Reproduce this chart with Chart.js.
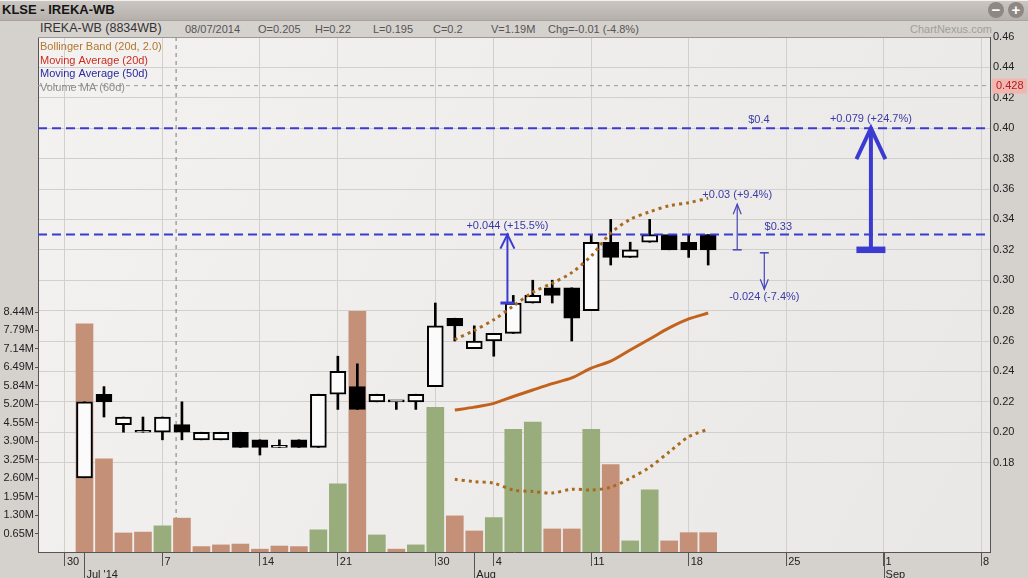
<!DOCTYPE html>
<html>
<head>
<meta charset="utf-8">
<title>KLSE - IREKA-WB</title>
<script src="https://cdn.jsdelivr.net/npm/chart.js@4.4.1/dist/chart.umd.min.js"></script>
<style>
  html, body { margin: 0; padding: 0; background: #d5d1cd; }
  #wrap { position: relative; width: 1028px; height: 578px; overflow: hidden; background: #d5d1cd; font-family: "Liberation Sans", Arial, sans-serif; }
  #topbar { position: absolute; left: 0; top: 0; width: 1028px; height: 21px; background: linear-gradient(#cbc6c1, #b5b0ab); border-top: 1px solid #f2f0ee; border-bottom: 1px solid #a8a39e; box-sizing: border-box; }
  #title { position: absolute; left: 2px; top: 2px; font-size: 13px; font-weight: bold; color: #151515; }
  .btn { position: absolute; top: 2px; width: 16px; height: 16px; border-radius: 50%; background: #8d8883; color: #fff; font: bold 15px/16px "Liberation Sans", Arial, sans-serif; text-align: center; }
  #name { position: absolute; left: 40px; top: 21px; font-size: 12.5px; color: #333; }
  .info { position: absolute; top: 23px; font-size: 11px; color: #555; white-space: nowrap; }
  #brand { position: absolute; left: 910px; top: 23px; font-size: 11px; color: #a29e9a; }
  canvas { position: absolute; left: 0; top: 0; }
</style>
</head>
<body>
<div id="wrap">
  <div id="topbar"></div>
  <div id="title">KLSE - IREKA-WB</div>
  <div class="btn" style="left:988px">&minus;</div>
  <div class="btn" style="left:1008px">+</div>
  <div id="name">IREKA-WB (8834WB)</div>
  <div class="info" style="left:185px">08/07/2014</div>
  <div class="info" style="left:258px">O=0.205</div>
  <div class="info" style="left:315px">H=0.22</div>
  <div class="info" style="left:373px">L=0.195</div>
  <div class="info" style="left:433px">C=0.2</div>
  <div class="info" style="left:491px">V=1.19M</div>
  <div class="info" style="left:548px">Chg=-0.01 (-4.8%)</div>
  <div id="brand">ChartNexus.com</div>
  <canvas id="chart" width="1028" height="578"></canvas>
</div>
<script>
// trading days on the axis (Jun 30 .. Sep 8)
const days = ['Jun 30', 'Jul 1', 'Jul 2', 'Jul 3', 'Jul 4', 'Jul 7', 'Jul 8', 'Jul 9', 'Jul 10', 'Jul 11',
  'Jul 14', 'Jul 15', 'Jul 16', 'Jul 17', 'Jul 21', 'Jul 22', 'Jul 23', 'Jul 24', 'Jul 25', 'Jul 30', 'Jul 31',
  'Aug 1', 'Aug 4', 'Aug 5', 'Aug 6', 'Aug 7', 'Aug 8', 'Aug 11', 'Aug 12', 'Aug 13', 'Aug 14', 'Aug 15',
  'Aug 18', 'Aug 19', 'Aug 20', 'Aug 21', 'Aug 22', 'Aug 25', 'Aug 26', 'Aug 27', 'Aug 28', 'Aug 29',
  'Sep 1', 'Sep 2', 'Sep 3', 'Sep 4', 'Sep 5', 'Sep 8'];

// days with a candle
const candleDays = ['Jul 1', 'Jul 2', 'Jul 3', 'Jul 4', 'Jul 7', 'Jul 8', 'Jul 9', 'Jul 10', 'Jul 11',
  'Jul 14', 'Jul 15', 'Jul 16', 'Jul 17', 'Jul 21', 'Jul 22', 'Jul 23', 'Jul 24', 'Jul 25', 'Jul 30', 'Jul 31',
  'Aug 1', 'Aug 4', 'Aug 5', 'Aug 6', 'Aug 7', 'Aug 8', 'Aug 11', 'Aug 12', 'Aug 13', 'Aug 14', 'Aug 15',
  'Aug 18', 'Aug 19'];

const opens  = [0.17, 0.225, 0.205, 0.2, 0.2, 0.205, 0.195, 0.195, 0.2, 0.195, 0.19, 0.195, 0.19, 0.225, 0.23, 0.22, 0.22,
  0.22, 0.23, 0.275, 0.255, 0.26, 0.265, 0.285, 0.295, 0.295, 0.28, 0.325, 0.315, 0.325, 0.33, 0.325, 0.33];
const highs  = [0.22, 0.23, 0.21, 0.21, 0.21, 0.22, 0.2, 0.2, 0.2, 0.195, 0.195, 0.195, 0.225, 0.25, 0.245, 0.225, 0.22,
  0.225, 0.285, 0.275, 0.27, 0.265, 0.29, 0.3, 0.3, 0.295, 0.33, 0.34, 0.325, 0.34, 0.33, 0.33, 0.33];
const lows   = [0.17, 0.21, 0.2, 0.2, 0.195, 0.195, 0.195, 0.195, 0.19, 0.185, 0.19, 0.19, 0.19, 0.215, 0.215, 0.22, 0.215,
  0.215, 0.23, 0.26, 0.255, 0.25, 0.265, 0.285, 0.285, 0.26, 0.28, 0.31, 0.315, 0.325, 0.32, 0.315, 0.31];
const closes = [0.22, 0.22, 0.21, 0.2, 0.21, 0.2, 0.2, 0.2, 0.19, 0.19, 0.19, 0.19, 0.225, 0.24, 0.215, 0.225, 0.22,
  0.225, 0.27, 0.27, 0.26, 0.265, 0.285, 0.29, 0.29, 0.275, 0.325, 0.315, 0.32, 0.33, 0.32, 0.32, 0.32];
// volume in millions
const volumes = [8.02, 3.28, 0.67, 0.70, 0.92, 1.19, 0.19, 0.25, 0.28, 0.10, 0.21, 0.19, 0.78, 2.40, 8.46, 0.60, 0.10,
  0.25, 5.09, 1.27, 0.74, 1.21, 4.31, 4.57, 0.81, 0.81, 4.31, 3.07, 0.39, 2.19, 0.39, 0.68, 0.68];

// bollinger band (20d, 2.0) from Jul 31
const bandDays = ['Jul 31', 'Aug 1', 'Aug 4', 'Aug 5', 'Aug 6', 'Aug 7', 'Aug 8', 'Aug 11', 'Aug 12', 'Aug 13',
  'Aug 14', 'Aug 15', 'Aug 18', 'Aug 19'];
const bbUpper = [0.261, 0.267, 0.274, 0.283, 0.292, 0.298, 0.305, 0.316, 0.331, 0.340, 0.345, 0.349, 0.351, 0.354];
const bbMiddle = [0.2146, 0.2165, 0.219, 0.2235, 0.2278, 0.232, 0.2357, 0.2422, 0.2468, 0.2541, 0.2613, 0.2686, 0.2745, 0.2784];
const bbLower = [0.169, 0.1675, 0.1665, 0.162, 0.161, 0.160, 0.1625, 0.162, 0.1638, 0.1697, 0.177, 0.187, 0.197, 0.202];

// axis ticks
const tickDays = ['Jun 30', 'Jul 1', 'Jul 7', 'Jul 14', 'Jul 21', 'Jul 30', 'Aug 1', 'Aug 4', 'Aug 11', 'Aug 18', 'Aug 25', 'Sep 1', 'Sep 8'];
const tickLabels = [['30'], ['', "Jul '14"], ['7'], ['14'], ['21'], ['30'], ['', 'Aug'], ['4'], ['11'], ['18'], ['25'], ['1', 'Sep'], ['8']];
const monthDays = ['Jul 1', 'Aug 1'];
const monthStartDays = ['Jul 1', 'Aug 1', 'Sep 1'];
const priceTicks = [0.18, 0.20, 0.22, 0.24, 0.26, 0.28, 0.30, 0.32, 0.34, 0.36, 0.38, 0.40, 0.42, 0.44, 0.46];
const volTickLabels = ['0.65M', '1.30M', '1.95M', '2.60M', '3.25M', '3.90M', '4.55M', '5.20M', '5.84M', '6.49M', '7.14M', '7.79M', '8.44M'];
const volTickStep = 0.6492;

// drawn price levels and measure arrows
const levelPrices = [0.40, 0.33];
const levelText = ['$0.4', '$0.33'];
const lastPrice = 0.428;
const arrowAt = [22.7, 34.49, 35.88, 41.35];          // position on the day axis
const arrowFrom = [0.285, 0.32, 0.32, 0.32];
const arrowTo = [0.33, 0.35, 0.296, 0.40];
const arrowText = ['+0.044 (+15.5%)', '+0.03 (+9.4%)', '-0.024 (-7.4%)', '+0.079 (+24.7%)'];
const crossDay = 'Jul 8';

const legendText = ['Bollinger Band (20d, 2.0)', 'Moving Average (20d)', 'Moving Average (50d)', 'Volume MA (60d)'];
const legendColor = ['#b5752a', '#cc2b1f', '#2a2a9e', '#8c8c8c'];

const dayIdx = d => days.indexOf(d);

Chart.defaults.font.family = '"Liberation Sans", Arial, sans-serif';
Chart.defaults.font.size = 11;
Chart.defaults.color = '#222';

const wicks = candleDays.map((d, i) => ({ x: dayIdx(d), y: [lows[i], highs[i]] }));
const bodies = candleDays.map((d, i) => ({ x: dayIdx(d), y: [opens[i], closes[i]] }));
const vols = candleDays.map((d, i) => ({ x: dayIdx(d), y: volumes[i] }));
const volColors = closes.map((c, i) => (i > 0 && c > closes[i - 1]) ? '#98ad7b' : '#c59078');
const bodyColors = closes.map((c, i) => c >= opens[i] ? '#fbfbfb' : '#000');
const line = arr => bandDays.map((d, i) => ({ x: dayIdx(d), y: arr[i] }));

function drawArrow(ctx, x, y0, y1, s, color) {
  ctx.strokeStyle = color;
  ctx.fillStyle = color;
  ctx.lineWidth = s.w;
  ctx.beginPath(); ctx.moveTo(x, y0); ctx.lineTo(x, y1); ctx.stroke();
  const dir = y1 < y0 ? 1 : -1;
  ctx.beginPath();
  ctx.moveTo(x - s.head, y1 + dir * s.headH);
  ctx.lineTo(x, y1);
  ctx.lineTo(x + s.head, y1 + dir * s.headH);
  ctx.stroke();
  ctx.fillRect(x - s.bar, y0 - s.barT / 2, s.bar * 2, s.barT);
}

const overlay = {
  id: 'overlay',
  beforeDraw(chart) {
    const { ctx, chartArea: a } = chart;
    ctx.save();
    const g = ctx.createLinearGradient(a.left, a.top, a.right, a.bottom);
    g.addColorStop(0, '#f3f2f1');
    g.addColorStop(1, '#e9e8e6');
    ctx.fillStyle = g;
    ctx.fillRect(a.left, a.top, a.right - a.left, a.bottom - a.top);
    ctx.restore();
  },
  beforeDatasetsDraw(chart) {
    const { ctx, chartArea: a, scales } = chart;
    ctx.save();
    // selected day crosshair
    const cx = scales.x.getPixelForValue(dayIdx(crossDay) - 0.3);
    ctx.strokeStyle = '#7a7a7a';
    ctx.lineWidth = 1;
    ctx.setLineDash([4, 4]);
    ctx.beginPath(); ctx.moveTo(cx, a.top); ctx.lineTo(cx, a.bottom); ctx.stroke();
    // last price line
    const ly = scales.y.getPixelForValue(lastPrice);
    ctx.strokeStyle = '#9a9a9a';
    ctx.beginPath(); ctx.moveTo(a.left, ly); ctx.lineTo(a.right, ly); ctx.stroke();
    ctx.setLineDash([]);
    // indicator legend
    ctx.font = '11px "Liberation Sans", Arial, sans-serif';
    ctx.textBaseline = 'middle';
    ctx.textAlign = 'left';
    legendText.forEach((t, i) => {
      ctx.fillStyle = legendColor[i];
      ctx.fillText(t, a.left + 2, a.top + 10 + i * 13.6);
    });
    ctx.restore();
  },
  afterDatasetsDraw(chart) {
    const { ctx, chartArea: a, scales } = chart;
    const blue = '#3b3bd2';
    ctx.save();
    ctx.strokeStyle = blue;
    ctx.lineWidth = 2;
    ctx.setLineDash([9, 5]);
    levelPrices.forEach(p => {
      const y = scales.y.getPixelForValue(p);
      ctx.beginPath(); ctx.moveTo(a.left, y); ctx.lineTo(a.right, y); ctx.stroke();
    });
    ctx.setLineDash([]);
    ctx.font = '11px "Liberation Sans", Arial, sans-serif';
    ctx.textAlign = 'center';
    ctx.textBaseline = 'middle';
    ctx.fillStyle = '#3a3aa6';
    const levelAt = [35.6, 36.6];
    levelPrices.forEach((p, i) => {
      ctx.fillText(levelText[i], scales.x.getPixelForValue(levelAt[i]), scales.y.getPixelForValue(p) - 8);
    });
    const styles = [
      { w: 2, head: 7, headH: 14, bar: 7, barT: 3 },
      { w: 1.2, head: 4, headH: 10, bar: 4.5, barT: 1.5 },
      { w: 1.2, head: 4, headH: 10, bar: 4.5, barT: 1.5 },
      { w: 4, head: 14.5, headH: 31, bar: 14.5, barT: 6.5 }
    ];
    arrowAt.forEach((d, i) => {
      const x = scales.x.getPixelForValue(d);
      const down = arrowTo[i] < arrowFrom[i];
      const shift = down ? 3 : 0;
      const y0 = scales.y.getPixelForValue(arrowFrom[i]) + shift;
      const y1 = scales.y.getPixelForValue(arrowTo[i]) + shift;
      drawArrow(ctx, x, y0, y1, styles[i], i === 1 || i === 2 ? '#4646b8' : blue);
      ctx.fillStyle = '#3a3aa6';
      ctx.fillText(arrowText[i], x, down ? y1 + 8 : y1 - 9);
    });
    ctx.restore();
  },
  afterDraw(chart) {
    const { ctx, chartArea: a, scales } = chart;
    ctx.save();
    ctx.strokeStyle = '#9b9895';
    ctx.lineWidth = 1;
    ctx.beginPath(); ctx.moveTo(a.left, a.top + 0.5); ctx.lineTo(a.right, a.top + 0.5); ctx.stroke();
    // longer tick marks at month starts
    ctx.strokeStyle = '#555';
    monthStartDays.forEach(d => {
      const x = Math.round(scales.x.getPixelForValue(dayIdx(d))) + 0.5;
      ctx.beginPath(); ctx.moveTo(x, a.bottom); ctx.lineTo(x, chart.height); ctx.stroke();
    });
    // last price tag on the price axis
    const ly = scales.y.getPixelForValue(lastPrice);
    ctx.fillStyle = '#f2b6b1';
    ctx.fillRect(a.right + 2, ly - 7, 35, 15);
    ctx.fillStyle = '#b02020';
    ctx.font = '11px "Liberation Sans", Arial, sans-serif';
    ctx.textAlign = 'left';
    ctx.textBaseline = 'middle';
    ctx.fillText(lastPrice.toFixed(3), a.right + 6, ly + 0.5);
    ctx.restore();
  }
};

new Chart(document.getElementById('chart'), {
  type: 'bar',
  data: {
    datasets: [
      {
        label: 'Upper band', type: 'line', data: line(bbUpper), yAxisID: 'y', order: 0,
        borderColor: '#a9691f', borderWidth: 3, borderDash: [3, 4], pointRadius: 0, tension: 0.3, fill: false
      },
      {
        label: 'Lower band', type: 'line', data: line(bbLower), yAxisID: 'y', order: 0,
        borderColor: '#a9691f', borderWidth: 3, borderDash: [3, 4], pointRadius: 0, tension: 0.3, fill: false
      },
      {
        label: 'Moving average', type: 'line', data: line(bbMiddle), yAxisID: 'y', order: 0,
        borderColor: '#c2621c', borderWidth: 3, pointRadius: 0, tension: 0.3, fill: false
      },
      {
        label: 'Body', data: bodies, yAxisID: 'y', order: 1, grouped: false,
        barThickness: 16, maxBarThickness: 16, minBarLength: 2,
        backgroundColor: bodyColors, borderColor: '#000', borderWidth: 2, borderSkipped: false
      },
      {
        label: 'Wick', data: wicks, yAxisID: 'y', order: 2, grouped: false,
        barThickness: 2, maxBarThickness: 2, backgroundColor: '#000', borderWidth: 0
      },
      {
        label: 'Volume', data: vols, yAxisID: 'yv', order: 3, grouped: false,
        barThickness: 17, maxBarThickness: 17, backgroundColor: volColors, borderWidth: 0
      }
    ]
  },
  options: {
    responsive: false,
    animation: false,
    events: [],
    layout: { padding: { top: 37, left: 0, right: 0, bottom: 0 } },
    plugins: { legend: { display: false }, tooltip: { enabled: false } },
    scales: {
      x: {
        type: 'linear', min: -1.385, max: 47.46, offset: false,
        afterBuildTicks: s => { s.ticks = tickDays.map(d => ({ value: dayIdx(d) })); },
        afterFit: s => { s.height = 26; },
        ticks: {
          autoSkip: false, maxRotation: 0, align: 'start', labelOffset: 2, padding: -11,
          color: '#222', callback: (v, i) => tickLabels[i]
        },
        grid: {
          offset: false, tickLength: 14, tickColor: '#555',
          color: c => (c.tick && monthDays.map(dayIdx).includes(c.tick.value)) ? 'rgba(0,0,0,0)' : '#d2d0cd'
        },
        border: { color: '#555' }
      },
      y: {
        type: 'linear', position: 'right', min: 0.1212, max: 0.46,
        afterBuildTicks: s => { s.ticks = priceTicks.map(v => ({ value: v })); },
        afterFit: s => { s.width = 38; },
        ticks: { padding: 3, color: '#222', callback: v => v.toFixed(2) },
        grid: { color: '#d2d0cd', drawTicks: false },
        border: { color: '#555' }
      },
      yv: {
        type: 'linear', position: 'left', min: 0, max: 18.11,
        afterBuildTicks: s => { s.ticks = volTickLabels.map((t, i) => ({ value: (i + 1) * volTickStep })); },
        afterFit: s => { s.width = 38; },
        ticks: { padding: 1, color: '#222', callback: (v, i) => volTickLabels[i] },
        grid: { drawOnChartArea: false, tickLength: 3, tickColor: '#555' },
        border: { color: '#555' }
      }
    }
  },
  plugins: [overlay]
});
</script>
</body>
</html>
